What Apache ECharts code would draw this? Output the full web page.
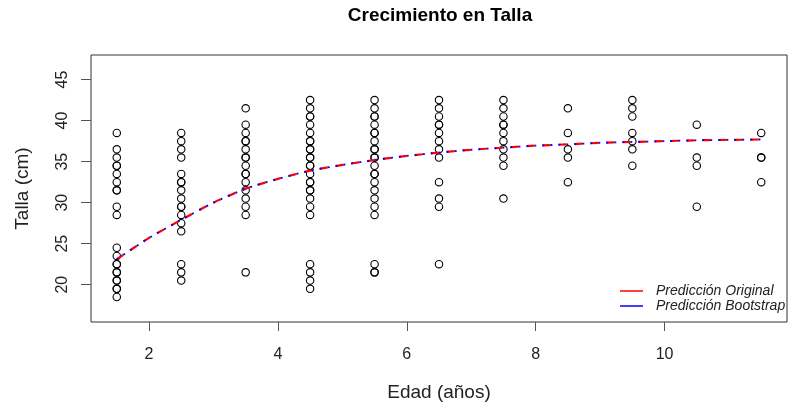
<!DOCTYPE html>
<html>
<head>
<meta charset="utf-8">
<script src="https://cdn.jsdelivr.net/npm/echarts@6/dist/echarts.min.js"></script>
<style>html,body{margin:0;padding:0;background:#fff}#c{width:788px;height:407px}</style>
</head>
<body>
<div id="c"></div>
<script>
// Edad (años) columns and observed Talla (cm) per column
const edades = [1.5, 2.5, 3.5, 4.5, 5.5, 6.5, 7.5, 8.5, 9.5, 10.5, 11.5];
const talla_1_5 = [38.5, 36.5, 35.5, 34.5, 34.5, 33.5, 32.5, 31.5, 31.5, 29.5, 28.5, 24.5, 23.5, 22.5, 22.5, 21.5, 21.5, 20.5, 20.5, 19.5, 19.5, 18.5];
const talla_2_5 = [38.5, 37.5, 36.5, 35.5, 33.5, 32.5, 32.5, 31.5, 30.5, 29.5, 29.5, 28.5, 27.5, 26.5, 22.5, 21.5, 20.5];
const talla_3_5 = [41.5, 39.5, 38.5, 37.5, 37.5, 36.5, 35.5, 35.5, 34.5, 33.5, 33.5, 32.5, 31.5, 30.5, 29.5, 28.5, 21.5];
const talla_4_5 = [42.5, 41.5, 40.5, 40.5, 39.5, 38.5, 37.5, 37.5, 36.5, 36.5, 35.5, 35.5, 34.5, 34.5, 33.5, 32.5, 32.5, 31.5, 31.5, 30.5, 29.5, 28.5, 22.5, 21.5, 20.5, 19.5];
const talla_5_5 = [42.5, 41.5, 40.5, 40.5, 39.5, 38.5, 38.5, 37.5, 36.5, 36.5, 35.5, 35.5, 34.5, 33.5, 33.5, 32.5, 31.5, 30.5, 29.5, 28.5, 22.5, 21.5, 21.5];
const talla_6_5 = [42.5, 41.5, 40.5, 39.5, 39.5, 38.5, 37.5, 36.5, 35.5, 32.5, 30.5, 29.5, 22.5];
const talla_7_5 = [42.5, 41.5, 40.5, 39.5, 39.5, 38.5, 37.5, 36.5, 35.5, 34.5, 30.5];
const talla_8_5 = [41.5, 38.5, 36.5, 35.5, 32.5];
const talla_9_5 = [42.5, 41.5, 40.5, 38.5, 37.5, 36.5, 34.5];
const talla_10_5 = [39.5, 35.5, 34.5, 29.5];
const talla_11_5 = [38.5, 35.5, 35.5, 32.5];
const tallas = [talla_1_5, talla_2_5, talla_3_5, talla_4_5, talla_5_5, talla_6_5, talla_7_5, talla_8_5, talla_9_5, talla_10_5, talla_11_5];

// Predicted curves (every half year)
const edadPred      = [1.5, 2.0, 2.5, 3.0, 3.5, 4.0, 4.5, 5.0, 5.5, 6.0, 6.5, 7.0, 7.5, 8.0, 8.5, 9.0, 9.5, 10.0, 10.5, 11.0, 11.5];
const predOriginal  = [23.1, 25.7, 27.9, 30.0, 31.7, 32.9, 33.9, 34.6, 35.2, 35.7, 36.1, 36.45, 36.7, 36.95, 37.1, 37.3, 37.4, 37.5, 37.6, 37.65, 37.7];
const predBootstrap = [23.1, 25.7, 27.9, 30.0, 31.7, 32.9, 33.9, 34.6, 35.2, 35.7, 36.1, 36.45, 36.7, 36.95, 37.1, 37.3, 37.4, 37.5, 37.6, 37.65, 37.7];

const xTicks = [2, 4, 6, 8, 10];
const yTicks = [20, 25, 30, 35, 40, 45];

const puntos = [];
edades.forEach((e, i) => tallas[i].forEach(t => puntos.push([e, t])));
const lineOrig = edadPred.map((e, i) => [e, predOriginal[i]]);
const lineBoot = edadPred.map((e, i) => [e, predBootstrap[i]]);

const FONT = '"Liberation Sans", Arial, sans-serif';
const chart = echarts.init(document.getElementById('c'), null, {renderer: 'canvas'});
chart.setOption({
  animation: false,
  backgroundColor: '#fff',
  textStyle: {fontFamily: FONT},
  title: {
    text: 'Crecimiento en Talla',
    left: 440, top: 6, padding: 0, textAlign: 'center',
    textStyle: {fontFamily: FONT, fontSize: 19, fontWeight: 'bold', color: '#000'}
  },
  grid: {left: 91, right: 1, top: 55, bottom: 84, show: true, borderColor: '#333', borderWidth: 1, backgroundColor: 'transparent', containLabel: false},
  legend: {
    orient: 'vertical', left: 620, top: 284, padding: 0,
    itemWidth: 23, itemHeight: 1.5, itemGap: 1,
    icon: 'rect',
    textStyle: {fontFamily: FONT, fontSize: 14, fontStyle: 'italic', color: '#222', padding: [0, 0, 0, 8]},
    data: [
      {name: 'Predicción Original', itemStyle: {color: '#ff0000'}},
      {name: 'Predicción Bootstrap', itemStyle: {color: '#0000ff'}}
    ]
  },
  xAxis: {
    type: 'value', min: 1.1, max: 11.9,
    name: 'Edad (años)', nameLocation: 'middle', nameGap: 61,
    nameTextStyle: {fontFamily: FONT, fontSize: 19, color: '#222'},
    axisLine: {show: false},
    axisTick: {show: true, inside: false, length: 9, customValues: xTicks, lineStyle: {color: '#555'}},
    axisLabel: {customValues: xTicks, margin: 25, fontFamily: FONT, fontSize: 16, color: '#222'},
    splitLine: {show: false}
  },
  yAxis: {
    type: 'value', min: 15.45, max: 48.0,
    name: 'Talla (cm)', nameLocation: 'middle', nameGap: 59, nameRotate: 90,
    nameTextStyle: {fontFamily: FONT, fontSize: 19, color: '#222'},
    axisLine: {show: false},
    axisTick: {show: true, inside: false, length: 10, customValues: yTicks, lineStyle: {color: '#555'}},
    axisLabel: {customValues: yTicks, rotate: 90, margin: 20, fontFamily: FONT, fontSize: 16, color: '#222'},
    splitLine: {show: false}
  },
  series: [
    {
      name: 'Puntos', type: 'scatter', data: puntos,
      symbol: 'circle', symbolSize: 7.4,
      itemStyle: {color: 'rgba(0,0,0,0)', borderColor: '#000', borderWidth: 1.1, opacity: 1},
      z: 2
    },
    {
      name: 'Predicción Original', type: 'line', data: lineOrig,
      smooth: 0.2, showSymbol: false, symbol: 'none',
      color: '#ff0000',
      lineStyle: {color: '#ff0000', width: 2.2, type: [8, 8]},
      z: 3
    },
    {
      name: 'Predicción Bootstrap', type: 'line', data: lineBoot,
      smooth: 0.2, showSymbol: false, symbol: 'none',
      color: '#0000ff',
      lineStyle: {color: '#0000ff', width: 1.8, type: [2, 6]},
      z: 4
    }
  ]
});
</script>
</body>
</html>
